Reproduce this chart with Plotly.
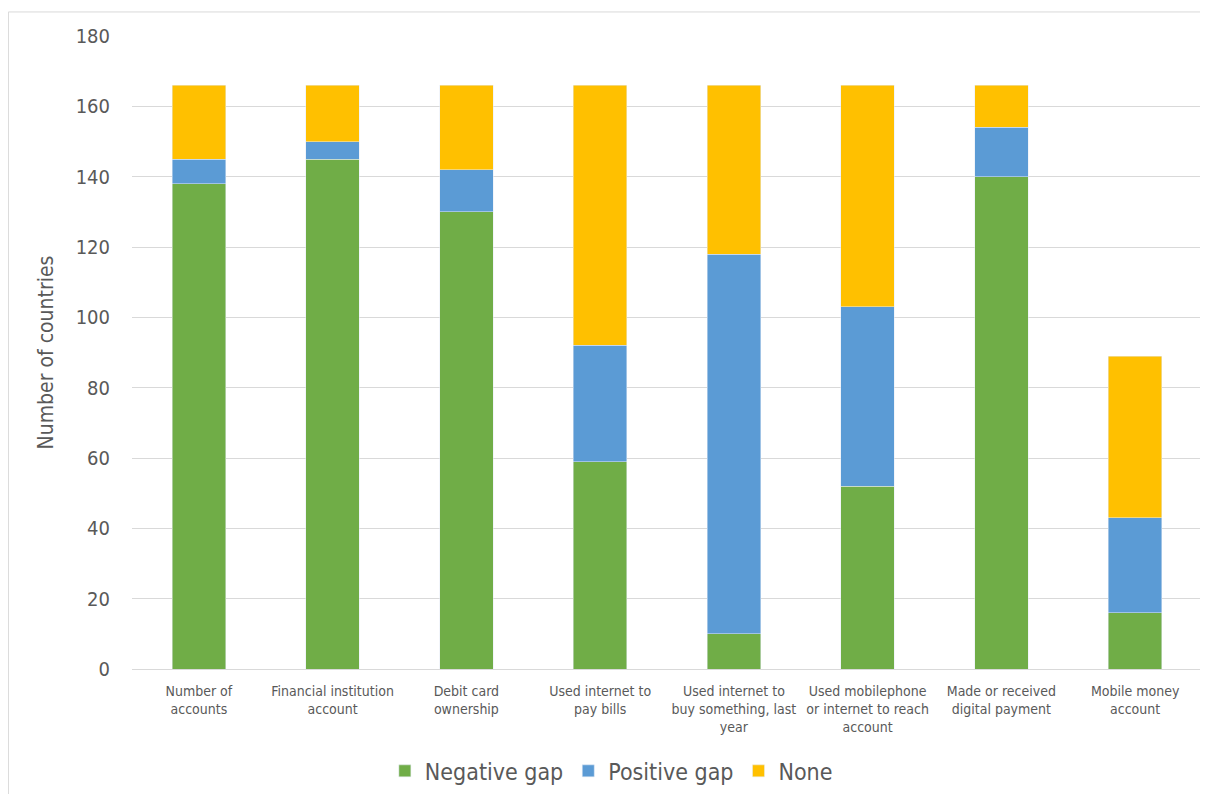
import plotly.graph_objects as go

categories = [
    "Number of<br>accounts",
    "Financial institution<br>account",
    "Debit card<br>ownership",
    "Used internet to<br>pay bills",
    "Used internet to<br>buy something, last<br>year",
    "Used mobilephone<br>or internet to reach<br>account",
    "Made or received<br>digital payment",
    "Mobile money<br>account",
]
negative_gap = [138, 145, 130, 59, 10, 52, 140, 16]
positive_gap = [7, 5, 12, 33, 108, 51, 14, 27]
none_vals = [21, 16, 24, 74, 48, 63, 12, 46]

FONT = "DejaVu Sans Condensed, Open Sans, sans-serif"

fig = go.Figure()
fig.add_bar(x=categories, y=negative_gap, name="Negative gap", marker_color="#70AD47")
fig.add_bar(x=categories, y=positive_gap, name="Positive gap", marker_color="#5B9BD5")
fig.add_bar(x=categories, y=none_vals, name="None", marker_color="#FFC000")

fig.update_layout(
    barmode="stack",
    bargap=0.6,
    width=1200, height=786,
    margin=dict(l=124, r=6, t=28, b=125, autoexpand=False),
    paper_bgcolor="white", plot_bgcolor="white",
    font=dict(family=FONT, color="#595959"),
    legend=dict(orientation="h", x=0.448, xanchor="center", y=-0.161, yanchor="middle",
                font=dict(size=23, color="#595959"), traceorder="normal"),
    shapes=[dict(type="rect", xref="paper", yref="paper", x0=-0.1155, x1=1.02, y0=-0.3, y1=1.038,
                 line=dict(color="#D9D9D9", width=1), layer="below")],
)
fig.update_yaxes(range=[0, 180], dtick=20, showgrid=True, gridcolor="#D9D9D9", gridwidth=1,
                 zeroline=False, showline=False, tickfont=dict(size=20, color="#595959"),
                 automargin=False, ticklabelstandoff=21,
                 title=dict(text="Number of countries", font=dict(size=21, color="#595959"), standoff=16))
fig.update_xaxes(showline=True, linecolor="#D9D9D9", tickfont=dict(size=14, color="#595959"),
                 ticks="", tickangle=0, automargin=False, ticklabelstandoff=9)

fig.write_html("out.html")
